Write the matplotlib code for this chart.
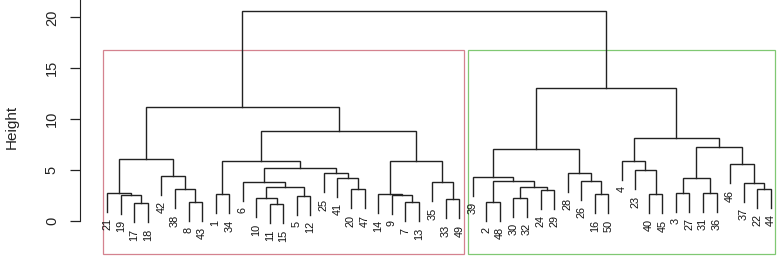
import matplotlib
matplotlib.use("Agg")
import matplotlib.pyplot as plt
from matplotlib.patches import Rectangle

plt.rcParams["font.family"] = ["Liberation Sans", "DejaVu Sans"]

# orden de las hojas tal como salen en el dendrograma
leaf_order = [21, 19, 17, 18, 42, 38, 8, 43, 1, 34, 6, 10, 11, 15, 5, 12, 25, 41,
              20, 47, 14, 9, 7, 13, 35, 33, 49,
              39, 2, 48, 30, 32, 24, 29, 28, 26, 16, 50, 4, 23, 40, 45, 3, 27,
              31, 36, 46, 37, 22, 44]

# matriz de fusiones estilo hclust (negativo = hoja, positivo = fila previa)
merge_left = [-11, -17, -7, -2, -8, -33, -10, -30, -5, -19, -9, -1, -14, -16, -40,
              -21, -3, -31, -24, -20, -38, -22, 7, 8, -37, -35, -6, 4, -26, 17,
              -41, -39, -42, -25, -28, -23, 27, -46, 12, 13, -4, 16, 32, 30, 41,
              39, 42, 43, 47]
merge_right = [-15, -18, -13, -48, -43, -49, 1, -32, -12, 2, 3, -34, 11, -50, -45,
               10, -27, -36, -29, -47, 5, -44, 9, 19, 22, 6, 23, 24, 14, 18,
               20, 28, 21, 31, 29, 15, 34, 25, 37, 26, 36, 33, 35, 38, 44,
               40, 46, 45, 48]
merge_height = [1.64, 1.71, 1.81, 1.84, 1.87, 2.10, 2.20, 2.27, 2.43, 2.53, 2.53,
                2.60, 2.60, 2.62, 2.62, 2.75, 2.76, 2.76, 3.02, 3.08, 3.12, 3.12,
                3.35, 3.35, 3.74, 3.77, 3.84, 3.90, 3.90, 4.17, 4.23, 4.33, 4.40,
                4.66, 4.72, 4.98, 5.21, 5.54, 5.87, 5.87, 5.90, 6.07, 7.02, 7.28,
                8.10, 8.85, 11.15, 13.05, 20.6]

hang = 1.87
k = 2
rect_colors = ["#D4828F", "#80C873"]
y_ticks = [0, 5, 10, 15, 20]

fig = plt.figure(figsize=(7.78, 2.56), dpi=100)
ax = fig.add_axes([80 / 778, 2.5 / 256, 698 / 778, 253.5 / 256])

xpos = {lab: i + 1 for i, lab in enumerate(leaf_order)}
node_x = {}
node_n = {}

for i, (a, b, h) in enumerate(zip(merge_left, merge_right, merge_height), start=1):
    pts = []
    for c in (a, b):
        if c < 0:
            x, y = xpos[-c], h - hang
            ax.annotate(str(-c), (x, y), xytext=(0, -4.5), textcoords="offset points",
                        rotation=90, ha="center", va="top", fontsize=7.8,
                        color="#111111")
            n = 1
        else:
            x, y = node_x[c], merge_height[c - 1]
            n = node_n[c]
        pts.append((x, y, n))
    (xa, ya, na), (xb, yb, nb) = pts
    ax.plot([xa, xa, xb, xb], [ya, h, h, yb], color="#222222", lw=1.0,
            solid_joinstyle="miter")
    node_x[i] = (xa + xb) / 2
    node_n[i] = na + nb

ylim = (-3.22, 21.72)

# rectángulos de rect.hclust para k = 2
top = sum(sorted(merge_height)[-k:]) / k
root = len(merge_height)
sizes = []
for c in (merge_left[root - 1], merge_right[root - 1]):
    sizes.append(1 if c < 0 else node_n[c])
start = 0
for size, col in zip(sizes, rect_colors):
    x0 = start + 0.66
    x1 = start + size + 0.33
    ax.add_patch(Rectangle((x0, ylim[0]), x1 - x0, top - ylim[0], fill=False,
                           edgecolor=col, lw=0.9, clip_on=False))
    start += size

ax.set_xlim(-1.016, 50.54)
ax.set_ylim(*ylim)
for s in ("top", "right", "bottom"):
    ax.spines[s].set_visible(False)
ax.spines["left"].set_bounds(0, ylim[1])
ax.spines["left"].set_color("#222222")
ax.set_xticks([])
ax.set_yticks(y_ticks)
ax.set_yticklabels([str(t) for t in y_ticks], rotation=90, va="center", fontsize=10.5,
                   color="#222222")
ax.tick_params(axis="y", length=7.2, width=0.9, pad=8, color="#222222")
ax.set_ylabel("Height", fontsize=11, color="#222222")
ax.yaxis.set_label_coords(-0.088, 0.5)
ax.patch.set_alpha(0)

fig.savefig("out.png", dpi=100)
